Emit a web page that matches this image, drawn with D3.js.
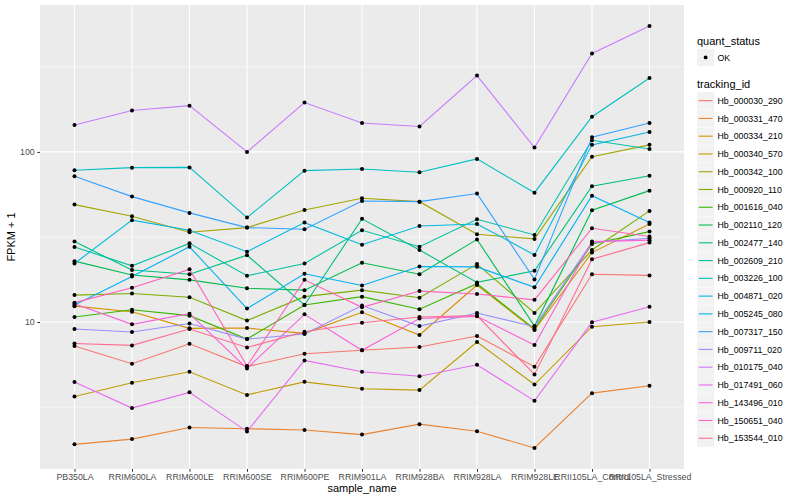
<!DOCTYPE html>
<html>
<head>
<meta charset="utf-8">
<script src="https://cdn.jsdelivr.net/npm/d3@7"></script>
<style>
  body { margin: 0; background: #fff; }
  text { font-family: "Liberation Sans", Arial, sans-serif; }
</style>
</head>
<body>
<svg id="chart" width="800" height="500"></svg>
<script>
// samples on the x axis
const samples = ["PB350LA", "RRIM600LA", "RRIM600LE", "RRIM600SE", "RRIM600PE", "RRIM901LA",
  "RRIM928BA", "RRIM928LA", "RRIM928LE", "RRII105LA_Control", "RRII105LA_Stressed"];

// FPKM + 1 per gene, one value per sample
const hb_000030_290 = [7.22, 5.69, 7.45, 5.47, 6.51, 6.82, 7.13, 8.27, 5.46, 19.1, 18.8];
const hb_000331_470 = [1.91, 2.05, 2.40, 2.36, 2.32, 2.18, 2.51, 2.28, 1.82, 3.82, 4.22];
const hb_000334_210 = [12.4, 11.5, 9.18, 9.22, 8.58, 11.4, 8.39, 16.5, 8.97, 25.6, 37.7];
const hb_000340_570 = [3.65, 4.40, 5.10, 3.73, 4.45, 4.05, 3.98, 7.63, 4.29, 9.39, 10.0];
const hb_000342_100 = [49.0, 41.9, 33.7, 35.9, 45.6, 53.4, 51.0, 32.8, 30.8, 93.8, 110];
const hb_000920_110 = [14.4, 14.7, 14.0, 10.2, 14.1, 15.4, 13.9, 21.9, 11.3, 26.5, 45.0];
const hb_001616_040 = [10.7, 11.8, 10.9, 7.94, 12.6, 14.1, 11.9, 16.8, 9.10, 28.8, 34.0];
const hb_002110_120 = [22.8, 18.9, 17.7, 15.8, 15.4, 22.3, 19.1, 30.6, 9.47, 45.4, 59.2];
const hb_002477_140 = [29.7, 20.2, 19.1, 24.7, 12.6, 40.4, 26.5, 17.1, 20.0, 62.8, 72.5];
const hb_002609_210 = [27.6, 21.4, 29.0, 18.7, 22.1, 34.6, 27.7, 40.2, 32.5, 117, 104];
const hb_003226_100 = [78.0, 80.8, 81.1, 41.1, 77.6, 79.4, 76.0, 91.0, 57.6, 161, 272];
const hb_004871_020 = [22.1, 39.7, 34.6, 25.9, 38.4, 28.5, 36.7, 37.7, 24.8, 110, 131];
const hb_005245_080 = [12.6, 18.5, 27.7, 12.0, 19.2, 16.4, 21.2, 21.1, 16.0, 55.3, 38.4];
const hb_007317_150 = [71.9, 54.6, 43.8, 35.9, 35.1, 51.5, 51.0, 56.9, 17.8, 122, 148];
const hb_009711_020 = [9.10, 8.73, 9.80, 7.94, 8.50, 12.5, 9.47, 11.3, 9.39, 29.4, 31.1];
const hb_010175_040 = [144, 175, 187, 100, 195, 148, 141, 281, 106, 379, 549];
const hb_017491_060 = [4.44, 3.12, 3.86, 2.27, 5.95, 5.10, 4.80, 5.61, 3.44, 9.96, 12.3];
const hb_143496_010 = [12.8, 9.69, 11.2, 5.34, 11.1, 6.82, 10.5, 10.8, 7.32, 29.7, 30.3];
const hb_150651_040 = [13.0, 15.9, 20.4, 5.51, 17.7, 12.2, 15.2, 14.6, 13.5, 35.6, 31.8];
const hb_153544_010 = [7.48, 7.29, 9.10, 7.08, 8.77, 9.91, 10.7, 10.9, 4.92, 23.4, 29.3];

const trackingIds = ["Hb_000030_290", "Hb_000331_470", "Hb_000334_210", "Hb_000340_570",
  "Hb_000342_100", "Hb_000920_110", "Hb_001616_040", "Hb_002110_120", "Hb_002477_140",
  "Hb_002609_210", "Hb_003226_100", "Hb_004871_020", "Hb_005245_080", "Hb_007317_150",
  "Hb_009711_020", "Hb_010175_040", "Hb_017491_060", "Hb_143496_010", "Hb_150651_040",
  "Hb_153544_010"];

const seriesValues = [hb_000030_290, hb_000331_470, hb_000334_210, hb_000340_570, hb_000342_100,
  hb_000920_110, hb_001616_040, hb_002110_120, hb_002477_140, hb_002609_210, hb_003226_100,
  hb_004871_020, hb_005245_080, hb_007317_150, hb_009711_020, hb_010175_040, hb_017491_060,
  hb_143496_010, hb_150651_040, hb_153544_010];

// ggplot default hue palette for 20 levels
const colors = ["#F8766D", "#EA8331", "#D89000", "#C09B00", "#A3A500", "#7CAE00", "#39B600",
  "#00BB4E", "#00BF7D", "#00C1A3", "#00BFC4", "#00BAE0", "#00B0F6", "#35A2FF", "#9590FF",
  "#C77CFF", "#E76BF3", "#FA62DB", "#FF62BC", "#FF6C91"];

const yBreaks = [10, 100];
const yMinor = [Math.sqrt(10), Math.sqrt(1000), Math.sqrt(100000)];

const series = trackingIds.map((id, i) => ({
  id: id,
  color: colors[i],
  points: samples.map((s, j) => ({ sample: s, value: seriesValues[i][j] }))
}));

// panel geometry
const panel = { left: 40, top: 5, right: 684, bottom: 469 };
const width = panel.right - panel.left;
const height = panel.bottom - panel.top;

const svg = d3.select("#chart");
const g = svg.append("g").attr("transform", `translate(${panel.left},${panel.top})`);

// scales
const x = d3.scalePoint()
  .domain(samples)
  .range([0, width])
  .padding(0.6);

const allValues = seriesValues.flat();
const lmin = Math.log10(d3.min(allValues));
const lmax = Math.log10(d3.max(allValues));
const pad = (lmax - lmin) * 0.05;
const y = d3.scaleLog()
  .domain([Math.pow(10, lmin - pad), Math.pow(10, lmax + pad)])
  .range([height, 0]);

// panel background + grid
g.append("rect")
  .attr("width", width)
  .attr("height", height)
  .attr("fill", "#EBEBEB");

g.selectAll(".minor")
  .data(yMinor.filter(v => v > y.domain()[0] && v < y.domain()[1]))
  .enter()
  .append("line")
    .attr("x1", 0).attr("x2", width)
    .attr("y1", d => y(d)).attr("y2", d => y(d))
    .attr("stroke", "#fff")
    .attr("stroke-width", 0.55);

g.selectAll(".major-y")
  .data(yBreaks)
  .enter()
  .append("line")
    .attr("x1", 0).attr("x2", width)
    .attr("y1", d => y(d)).attr("y2", d => y(d))
    .attr("stroke", "#fff")
    .attr("stroke-width", 1.1);

g.selectAll(".major-x")
  .data(samples)
  .enter()
  .append("line")
    .attr("x1", d => x(d)).attr("x2", d => x(d))
    .attr("y1", 0).attr("y2", height)
    .attr("stroke", "#fff")
    .attr("stroke-width", 1.1);

// lines
const line = d3.line()
  .x(d => x(d.sample))
  .y(d => y(d.value));

g.selectAll(".series")
  .data(series)
  .enter()
  .append("path")
    .attr("d", d => line(d.points))
    .attr("fill", "none")
    .attr("stroke", d => d.color)
    .attr("stroke-width", 1.1);

// points on top
g.selectAll(".pt")
  .data(series.flatMap(d => d.points))
  .enter()
  .append("circle")
    .attr("cx", d => x(d.sample))
    .attr("cy", d => y(d.value))
    .attr("r", 2)
    .attr("fill", "#000");

// axes
const xAxis = g.append("g")
  .attr("transform", `translate(0,${height})`)
  .call(d3.axisBottom(x).tickSize(2.75).tickPadding(2.5));

const yAxis = g.append("g")
  .call(d3.axisLeft(y).tickValues(yBreaks).tickFormat(d3.format("d")).tickSize(2.75).tickPadding(2.5));

[xAxis, yAxis].forEach(a => {
  a.select(".domain").remove();
  a.selectAll(".tick line").attr("stroke", "#333").attr("stroke-width", 1);
  a.selectAll(".tick text")
    .attr("fill", "#4D4D4D")
    .style("font-size", "8.8px")
    .style("font-family", "'Liberation Sans', Arial, sans-serif");
});

// axis titles
svg.append("text")
  .attr("x", panel.left + width / 2)
  .attr("y", 492)
  .attr("text-anchor", "middle")
  .style("font-size", "11px")
  .text("sample_name");

svg.append("text")
  .attr("transform", `translate(15,${panel.top + height / 2}) rotate(-90)`)
  .attr("text-anchor", "middle")
  .style("font-size", "11px")
  .text("FPKM + 1");

// legends
const lg = svg.append("g").attr("transform", "translate(697,0)");
const keySize = 17.28;

lg.append("text")
  .attr("x", 0).attr("y", 44.5)
  .style("font-size", "11px")
  .text("quant_status");

lg.append("rect")
  .attr("x", 0).attr("y", 48.8)
  .attr("width", keySize).attr("height", keySize)
  .attr("fill", "#F2F2F2");

lg.append("circle")
  .attr("cx", keySize / 2).attr("cy", 48.8 + keySize / 2)
  .attr("r", 1.9)
  .attr("fill", "#000");

lg.append("text")
  .attr("x", 20.5).attr("y", 48.8 + keySize / 2 + 3.1)
  .style("font-size", "8.8px")
  .text("OK");

lg.append("text")
  .attr("x", 0).attr("y", 88)
  .style("font-size", "11px")
  .text("tracking_id");

const keys = lg.selectAll(".key")
  .data(series)
  .enter()
  .append("g")
    .attr("transform", (d, i) => `translate(0,${92 + i * 17.77})`);

keys.append("rect")
  .attr("width", keySize).attr("height", keySize)
  .attr("fill", "#F2F2F2");

keys.append("line")
  .attr("x1", 1.7).attr("x2", keySize - 1.7)
  .attr("y1", keySize / 2).attr("y2", keySize / 2)
  .attr("stroke", d => d.color)
  .attr("stroke-width", 1.1);

keys.append("text")
  .attr("x", 20.5).attr("y", keySize / 2 + 3.1)
  .style("font-size", "8.8px")
  .text(d => d.id);
</script>
</body>
</html>
